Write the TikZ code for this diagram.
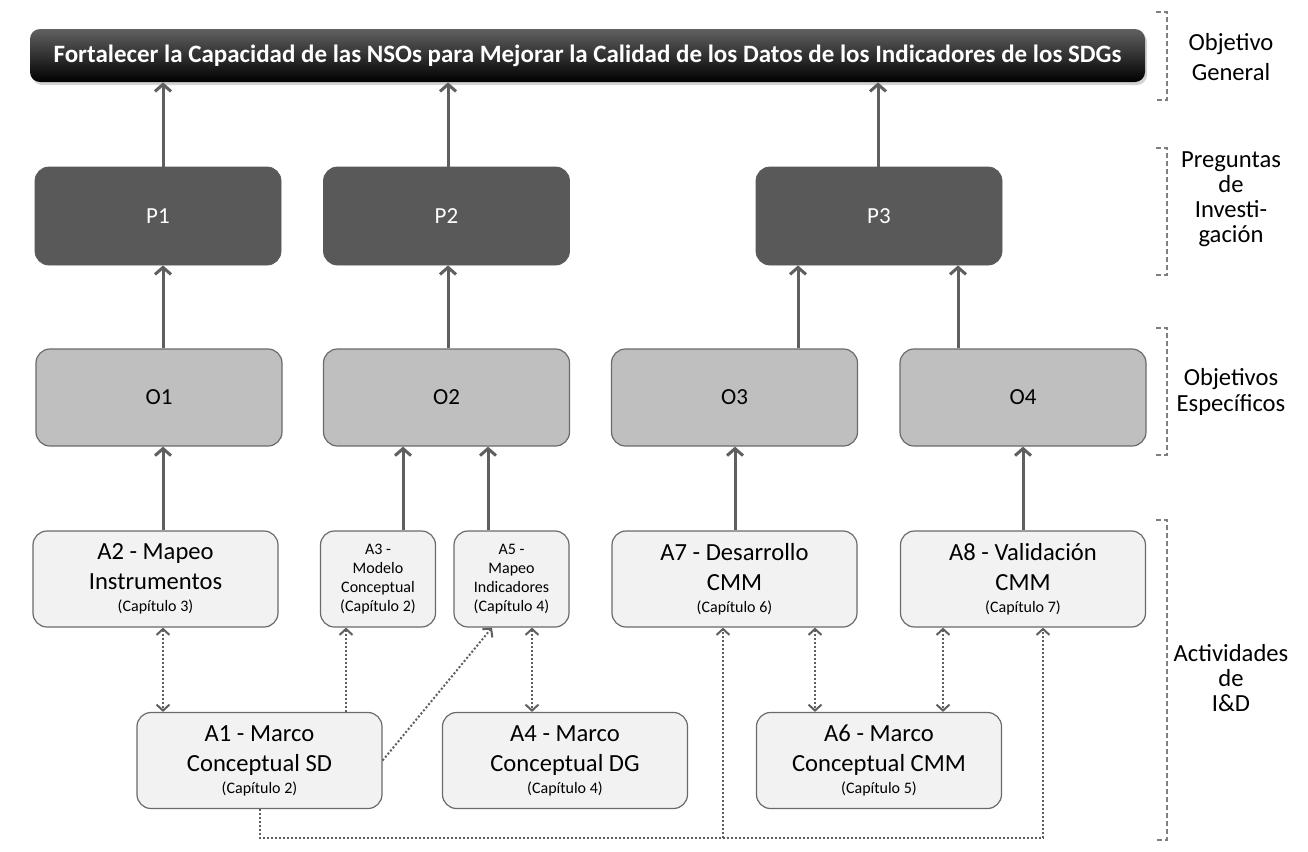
\documentclass[tikz,border=0pt]{standalone}
\usepackage{fontspec}
\setmainfont{Carlito}
\usepackage{xcolor}
\usetikzlibrary{arrows.meta,shadows}

\definecolor{darkbox}{HTML}{595959}
\definecolor{midbox}{HTML}{BFBFBF}
\definecolor{lightbox}{HTML}{F2F2F2}
\definecolor{edgegray}{HTML}{6A6A6A}
\definecolor{arrgray}{HTML}{5F5F5F}
\definecolor{brkgray}{HTML}{7F7F7F}

\newcommand{\chapnote}{\fontsize{8}{9.5}\selectfont}

\begin{document}
\begin{tikzpicture}[x=0.5pt,y=-0.5pt,
  goal/.style={rectangle, rounded corners=5pt, minimum width=557.5pt, minimum height=26.5pt,
    top color=black!62, middle color=black, bottom color=black, text=white,
    font=\fontsize{12.5}{15}\selectfont\bfseries,
    drop shadow={opacity=0.35, shadow xshift=1pt, shadow yshift=-1.5pt}},
  quest/.style={rectangle, rounded corners=7pt, minimum width=123pt, minimum height=49pt,
    fill=darkbox, draw=darkbox, text=white, font=\fontsize{11.5}{13}\selectfont},
  objbox/.style={rectangle, rounded corners=7pt, minimum width=123pt, minimum height=48.5pt,
    fill=midbox, draw=edgegray, line width=0.6pt, font=\fontsize{11.5}{13}\selectfont},
  actbig/.style={rectangle, rounded corners=7pt, minimum width=122.5pt, minimum height=48pt,
    fill=lightbox, draw=edgegray, line width=0.6pt, align=center,
    font=\fontsize{12.3}{15}\selectfont},
  actsmall/.style={actbig, minimum width=57.5pt, font=\fontsize{8}{9.5}\selectfont},
  side/.style={align=center},
  arr/.style={draw=arrgray, line width=1.5pt, -{Straight Barb[length=3.5pt,width=8pt]}},
  dotarr/.style={draw=arrgray, line width=1pt, densely dotted, -{Straight Barb[length=3pt,width=6.5pt]}},
  dotboth/.style={dotarr, {Straight Barb[length=3pt,width=6.5pt]}-{Straight Barb[length=3pt,width=6.5pt]}},
  dotline/.style={draw=arrgray, line width=1pt, densely dotted},
  brk/.style={draw=brkgray, line width=0.75pt, dash pattern=on 2.5pt off 1.5pt}]
\tikzstyle{every node}+=[inner sep=0pt]
\useasboundingbox (0,0) rectangle (1308,852);

% objetivo general
\node[goal] (bar) at (587.5,55.5) {Fortalecer la Capacidad de las NSOs para Mejorar la Calidad de los Datos de los Indicadores de los SDGs};

% preguntas
\node[quest] (P1) at (158,216) {P1};
\node[quest] (P2) at (446.5,216) {P2};
\node[quest] (P3) at (879,216) {P3};

% objetivos especificos
\node[objbox] (O1) at (159,397.5) {O1};
\node[objbox] (O2) at (446.5,397.5) {O2};
\node[objbox] (O3) at (734.5,397.5) {O3};
\node[objbox] (O4) at (1023,397.5) {O4};

% actividades
\node[actbig] (A2) at (155.5,579) {A2 - Mapeo\\Instrumentos\\[-4pt]{\chapnote (Capítulo 3)}};
\node[actsmall] (A3) at (378,579) {A3 -\\Modelo\\Conceptual\\(Capítulo 2)};
\node[actsmall] (A5) at (511.5,579) {A5 -\\Mapeo\\Indicadores\\(Capítulo 4)};
\node[actbig] (A7) at (734.5,579) {A7 - Desarrollo\\CMM\\[-4pt]{\chapnote (Capítulo 6)}};
\node[actbig] (A8) at (1023,579) {A8 - Validación\\CMM\\[-4pt]{\chapnote (Capítulo 7)}};
\node[actbig] (A1) at (259.5,760.5) {A1 - Marco\\Conceptual SD\\[-4pt]{\chapnote (Capítulo 2)}};
\node[actbig] (A4) at (565,760.5) {A4 - Marco\\Conceptual DG\\[-4pt]{\chapnote (Capítulo 4)}};
\node[actbig] (A6) at (879,760.5) {A6 - Marco\\Conceptual CMM\\[-4pt]{\chapnote (Capítulo 5)}};

% etiquetas
\node[side, font=\fontsize{12.3}{15}\selectfont] (lgen) at (1231,57) {Objetivo\\General};
\node[side, font=\fontsize{12.3}{12.5}\selectfont] (lpre) at (1231,199) {Preguntas\\de\\Investi-\\gación};
\node[side, font=\fontsize{12.3}{13}\selectfont] (lobj) at (1231,392) {Objetivos\\Específicos};
\node[side, font=\fontsize{12.3}{12.5}\selectfont] (lact) at (1231,678) {Actividades\\de\\I\&D};
\foreach \ya/\yb in {12/100,148/275,328/455,520/840}
  \draw[brk] (1156,\ya) -- (1167,\ya) -- (1167,\yb) -- (1156,\yb);

% solid arrows
\draw[arr] (P1.north -| 163,0) -- (bar.south -| 163,0);
\draw[arr] (P2.north -| 448,0) -- (bar.south -| 448,0);
\draw[arr] (P3.north -| 878,0) -- (bar.south -| 878,0);
\draw[arr] (O1.north -| 163,0) -- (P1.south -| 163,0);
\draw[arr] (O2.north -| 448,0) -- (P2.south -| 448,0);
\draw[arr] (O3.north -| 798,0) -- (P3.south -| 798,0);
\draw[arr] (O4.north -| 958,0) -- (P3.south -| 958,0);
\draw[arr] (A2.north -| 163,0) -- (O1.south -| 163,0);
\draw[arr] (A3.north -| 403,0) -- (O2.south -| 403,0);
\draw[arr] (A5.north -| 488,0) -- (O2.south -| 488,0);
\draw[arr] (A7.north -| 735,0) -- (O3.south -| 735,0);
\draw[arr] (A8.north -| 1023,0) -- (O4.south -| 1023,0);

% dotted links
\draw[dotboth] (A2.south -| 163,0) -- (A1.north -| 163,0);
\draw[dotarr] (A1.north -| 346,0) -- (A3.south -| 346,0);
\draw[dotarr] (A1.east) -- (A5.south -| 492,0);
\draw[dotboth] (A5.south -| 532,0) -- (A4.north -| 532,0);
\draw[dotboth] (A7.south -| 815,0) -- (A6.north -| 815,0);
\draw[dotboth] (A8.south -| 943,0) -- (A6.north -| 943,0);
\coordinate (j7) at (723,838);
\coordinate (j8) at (1043,838);
\draw[dotline] (A1.south) |- (j8);
\draw[dotarr] (j7) -- (j7 |- A7.south);
\draw[dotarr] (j8) -- (j8 |- A8.south);
\end{tikzpicture}
\end{document}
